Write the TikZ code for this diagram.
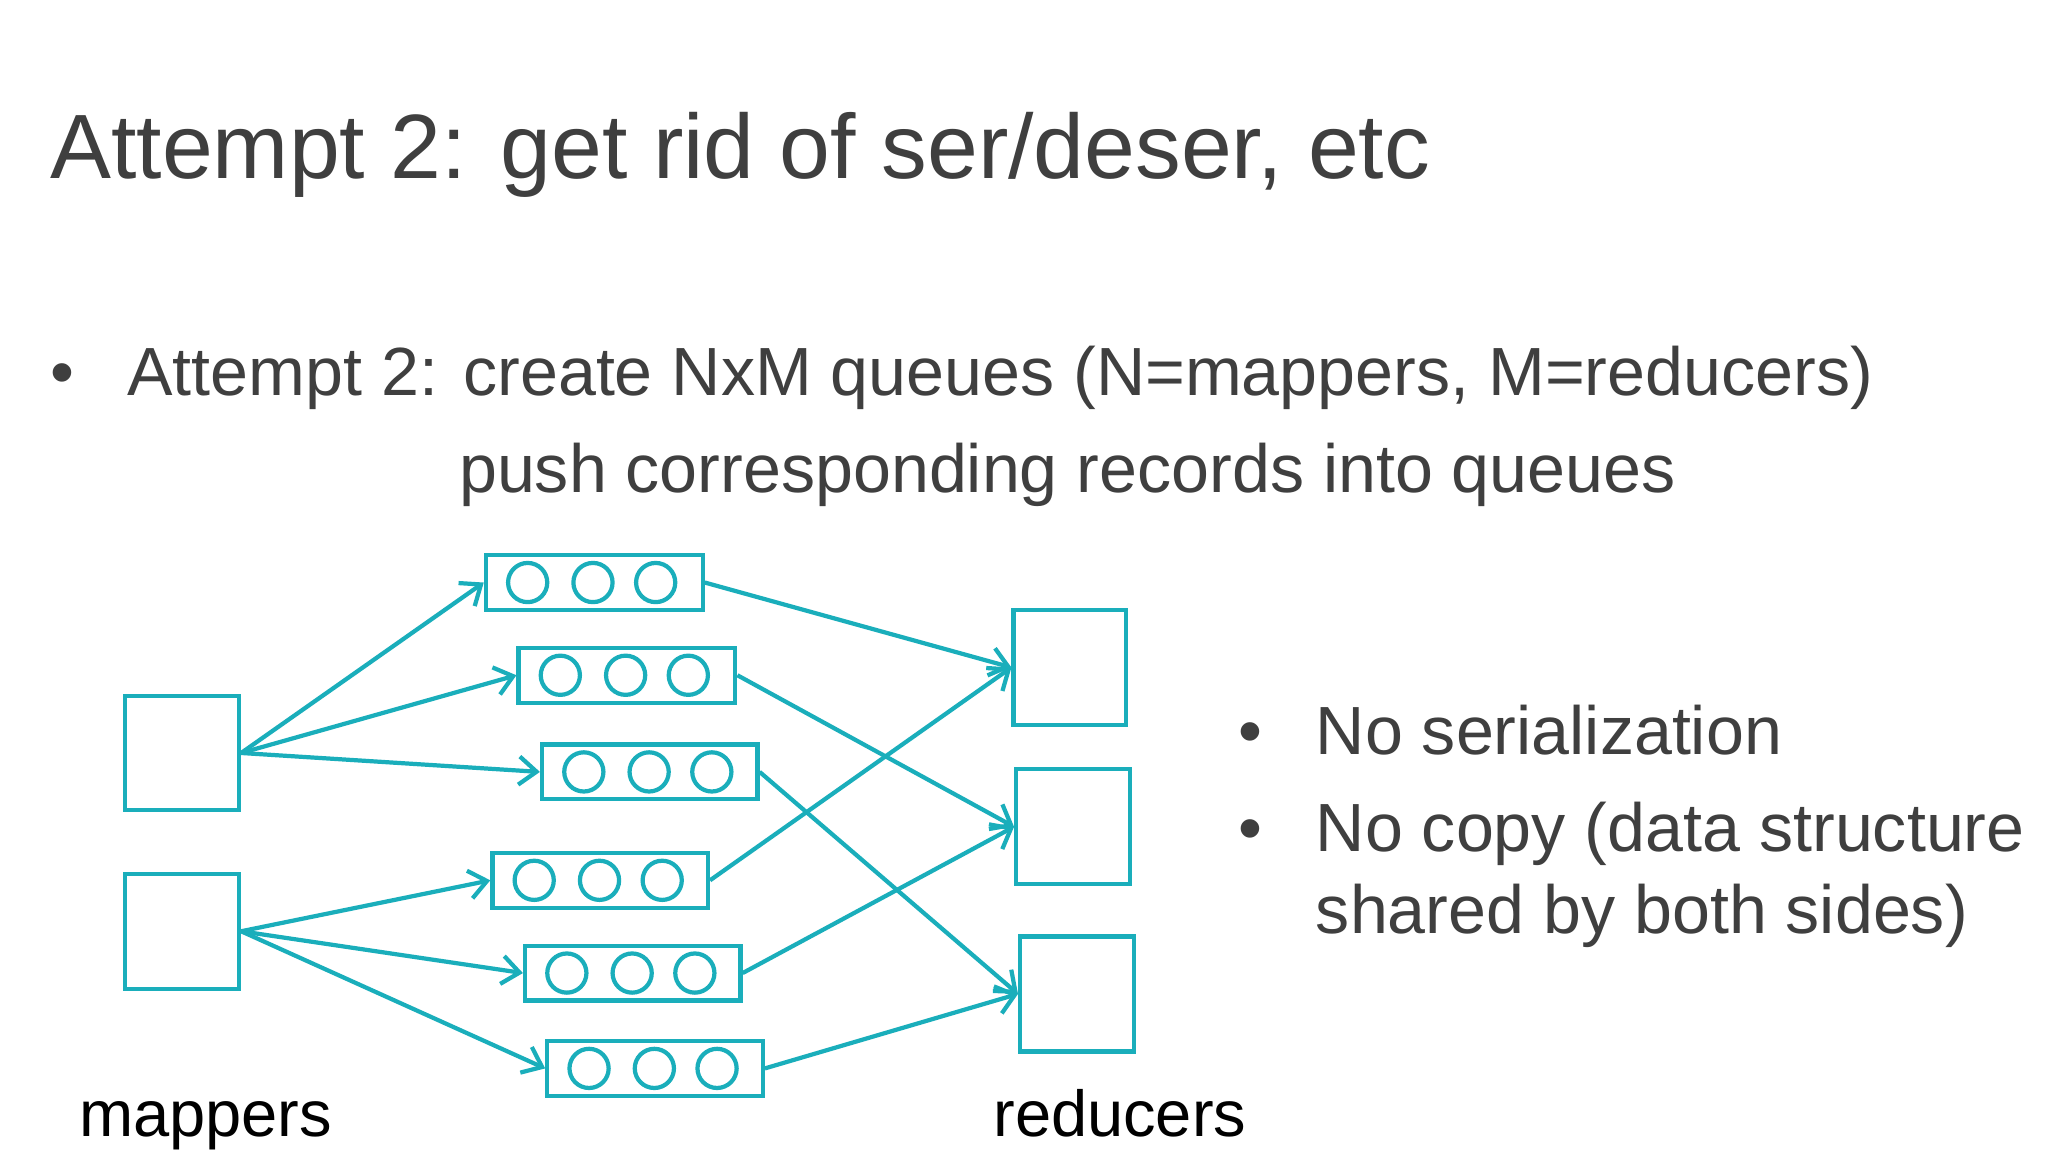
\documentclass[tikz,border=0pt]{standalone}
\usepackage{fontspec}
\setmainfont{Liberation Sans}
\usetikzlibrary{arrows.meta}
\definecolor{teal1}{HTML}{1AAEBB}
\definecolor{txt}{HTML}{3F3F3F}
\newcommand\U{0.013061cm}
\tikzset{
 box/.style={draw=teal1,line width=1.2pt,inner sep=0pt,fill=white},
 circ/.style={draw=teal1,line width=1.2pt,circle,inner sep=0pt,minimum size=30*\U},
 arr/.style={draw=teal1,line width=1.2pt,-{Straight Barb[length=5pt,width=8pt]}},
 t/.style={anchor=base west,inner sep=0pt,text=txt,font=\fontsize{19.4}{23}\selectfont},
 lab/.style={anchor=base west,inner sep=0pt,text=black,font=\fontsize{18.5}{22}\selectfont}
}
\newcommand\pbox[5]{\node[box,minimum width=(#4-#2)*\U,minimum height=(#5-#3)*\U] (#1) at ({(#2+#4)/2},{(#3+#5)/2}) {};}
\newcommand\queue[5]{\pbox{#1}{#2}{#3}{#4}{#5}
 \foreach \k/\o in {a/32,b/82,c/130}{\node[circ] (#1\k) at ({#2+\o},{(#3+#5)/2}) {};}}
\begin{document}
\begin{tikzpicture}[x=\U,y=-\U]
\useasboundingbox[fill=white] (0,0) rectangle (1568,882);
\node[t,font=\fontsize{26}{30}\selectfont] (title) at (38,137) {Attempt 2: get rid of ser/deser, etc};
\node[t] (d1) at (38,303) {•};
\node[t] (b1) at (97,303) {Attempt 2: create NxM queues (N=mappers, M=reducers)};
\node[t] (b1b) at (351,377) {push corresponding records into queues};
\node[t] (d2) at (948,578) {•};
\node[t] (b2) at (1007,578) {No serialization};
\node[t] (d3) at (948,652) {•};
\node[t] (b3) at (1007,652) {No copy (data structure};
\node[t] (b3b) at (1007,715) {shared by both sides)};
\node[lab] (lm) at (60,870) {mappers};
\node[lab] (lr) at (760,870) {reducers};
\pbox{m1}{96}{533}{183}{620}
\pbox{m2}{96}{669}{183}{757}
\pbox{r1}{776}{467}{862}{555}
\pbox{r2}{778}{589}{865}{677}
\pbox{r3}{781}{717}{868}{805}
\queue{q1}{372}{425}{538}{467}
\queue{q2}{397}{496}{563}{538}
\queue{q3}{415}{570}{580}{612}
\queue{q4}{377}{653}{542}{695}
\queue{q5}{402}{724}{567}{766}
\queue{q6}{419}{797}{584}{839}
\foreach \q in {q1,q2,q3}{\draw[arr] (m1.east) -- (\q.west);}
\foreach \q in {q4,q5,q6}{\draw[arr] (m2.east) -- (\q.west);}
\draw[arr] (q1.east) -- (r1.west);
\draw[arr] (q4.east) -- (r1.west);
\draw[arr] (q2.east) -- (r2.west);
\draw[arr] (q5.east) -- (r2.west);
\draw[arr] (q3.east) -- (r3.west);
\draw[arr] (q6.east) -- (r3.west);
\end{tikzpicture}
\end{document}
